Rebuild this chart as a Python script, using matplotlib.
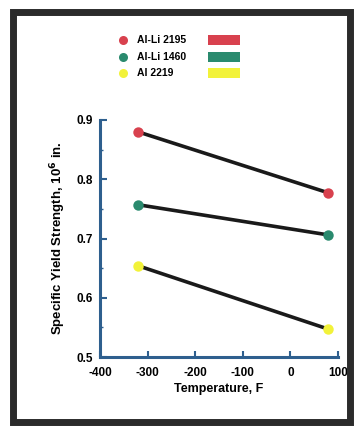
import numpy as np
import matplotlib
matplotlib.use("Agg")
from matplotlib import pyplot as plt
from matplotlib.patches import Rectangle

plt.rcParams['font.family'] = ['Liberation Sans', 'DejaVu Sans']
plt.rcParams['font.weight'] = 'bold'
plt.rcParams['axes.unicode_minus'] = False

# data
temps = [-320, 80]
alli_2195 = [0.880, 0.777]
alli_1460 = [0.757, 0.706]
al_2219 = [0.654, 0.547]
names = ['Al-Li 2195', 'Al-Li 1460', 'Al 2219']
colors = ['#d8414e', '#2a8a6e', '#f2f23a']
xticks = [-400, -300, -200, -100, 0, 100]
yticks = [0.5, 0.6, 0.7, 0.8, 0.9]

W, H = 358, 428
fig = plt.figure(figsize=(W / 100, H / 100), dpi=100)
fig.patch.set_facecolor('white')

# scanned frame
frame = Rectangle((13 / W, 6 / H), 337 / W, (H - 18) / H, transform=fig.transFigure,
                  fill=False, edgecolor='#2b2b2b', linewidth=5)
fig.add_artist(frame)

ax = fig.add_axes([100 / W, (H - 357) / H, 238 / W, 237 / H])
spine_c = '#2e5f8e'
for s in ['top', 'right']:
    ax.spines[s].set_visible(False)
for s in ['left', 'bottom']:
    ax.spines[s].set_color(spine_c)
    ax.spines[s].set_linewidth(2.2)

for ys, c in zip([alli_2195, alli_1460, al_2219], colors):
    ax.plot(temps, ys, color='#1a1a1a', linewidth=2.6, zorder=2)
    ax.plot(temps, ys, 'o', color=c, markersize=7.5, zorder=3, markeredgewidth=0)

ax.set_xlim(-400, 100)
ax.set_ylim(0.5, 0.9)
ax.set_xticks(xticks)
ax.set_yticks(yticks)
ax.set_yticks([0.55, 0.65, 0.75, 0.85], minor=True)
ax.set_yticklabels(['0.5', '0.6', '0.7', '0.8', '0.9'])
ax.tick_params(axis='y', direction='in', color=spine_c, width=1.5, length=5, labelsize=8.5, pad=5)
ax.tick_params(axis='y', which='minor', direction='in', color=spine_c, width=1, length=2)
ax.tick_params(axis='x', direction='in', color=spine_c, width=1.5, length=4, labelsize=8.5, pad=7)
ax.set_xlabel('Temperature, F', fontsize=9, fontweight='bold', labelpad=3)
ax.set_ylabel('Specific Yield Strength, 10$^6$ in.', fontsize=9.5, fontweight='bold', labelpad=6)

# legend drawn by hand, as in the scan
leg_y = [40, 57, 73]
for yy, n, c in zip(leg_y, names, colors):
    fig.add_artist(plt.Line2D([123 / W], [1 - yy / H], marker='o', color=c,
                              markersize=6.5, markeredgewidth=0, transform=fig.transFigure))
    fig.text(137 / W, 1 - yy / H, n, fontsize=7.5, fontweight='bold', ha='left', va='center')
    fig.add_artist(Rectangle((208 / W, 1 - (yy + 5) / H), 32 / W, 10 / H,
                             transform=fig.transFigure, facecolor=c, edgecolor='none'))

fig.savefig('out.png', dpi=100)
